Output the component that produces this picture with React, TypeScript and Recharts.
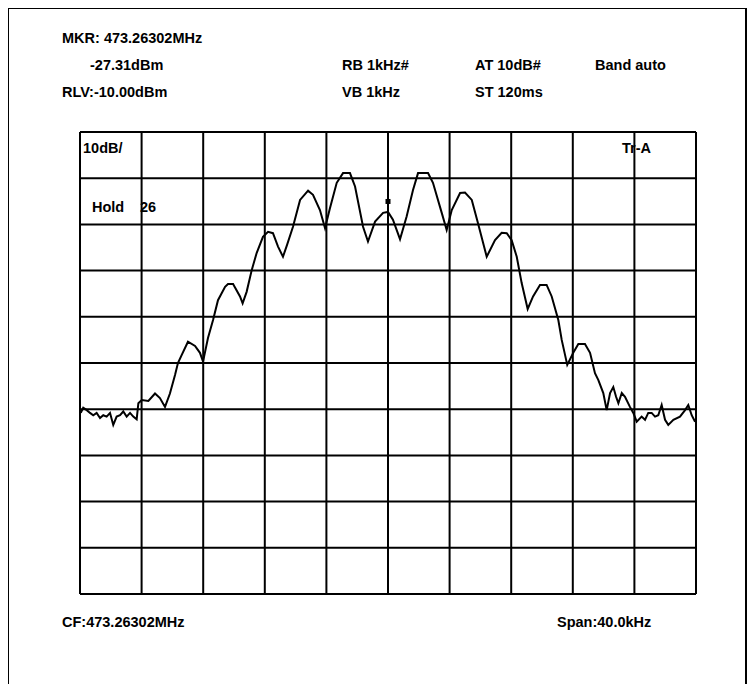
import { LineChart, Line, XAxis, YAxis, CartesianGrid, ReferenceDot } from "recharts";

// trace: offset from CF in kHz, level in dBm
const freqKHz = [
  -19.95, -19.79, -19.56, -19.35, -19.14, -18.92, -18.7, -18.49, -18.27, -18.05,
  -17.84, -17.62, -17.4, -17.19, -16.97, -16.75, -16.54, -16.32, -16.21, -15.99,
  -15.56, -15.13, -14.81, -14.48, -14.16, -13.83, -13.64, -13.4, -12.99, -12.53,
  -12.21, -12.01, -11.69, -11.36, -11.04, -10.58, -10.39, -10.06, -9.61, -9.44,
  -9.18, -8.85, -8.53, -8.12, -7.79, -7.47, -7.14, -6.82, -6.56, -6.17,
  -5.71, -5.19, -4.87, -4.42, -4.09, -3.77, -3.33, -2.92, -2.47, -2.14,
  -1.62, -1.3, -0.84, -0.32, 0, 0.32, 0.78, 1.21, 1.62, 1.95,
  2.6, 2.92, 3.49, 3.81, 4.14, 4.68, 5.0, 5.44, 5.84, 6.41,
  6.95, 7.38, 7.71, 8.03, 8.36, 8.68, 9.07, 9.42, 9.87, 10.3,
  10.63, 11.06, 11.28, 11.64, 12.03, 12.36, 12.79, 13.12, 13.44, 13.66,
  13.98, 14.2, 14.42, 14.63, 14.81, 14.96, 15.18, 15.39, 15.71, 15.93,
  16.15, 16.47, 16.69, 16.9, 17.12, 17.34, 17.55, 17.77, 17.99, 18.2,
  18.53, 18.96, 19.29, 19.5, 19.72, 19.94,
];

const levelDbm = [
  -70.8, -69.7, -70.2, -70.8, -71.3, -70.8, -71.9, -71.3, -71.6, -70.8,
  -73.4, -71.6, -71.3, -70.5, -71.6, -70.8, -71.6, -72.2, -68.7, -68.0,
  -68.2, -66.6, -67.6, -69.5, -66.6, -62.6, -60.0, -58.3, -55.4, -56.3,
  -57.8, -59.7, -54.6, -50.7, -46.4, -43.5, -42.9, -42.9, -45.6, -47.1,
  -44.6, -39.9, -36.2, -32.7, -31.6, -31.9, -34.8, -37.0, -34.5, -30.5,
  -24.7, -22.7, -23.6, -26.9, -30.8, -26.5, -21.0, -18.9, -18.9, -21.8,
  -30.5, -33.7, -29.4, -27.5, -27.3, -29.0, -33.2, -28.3, -22.6, -18.9,
  -18.9, -21.0, -27.5, -31.2, -26.9, -23.2, -23.1, -24.7, -29.7, -37.0,
  -33.4, -31.8, -31.9, -33.4, -37.0, -42.7, -48.3, -45.6, -43.1, -43.1,
  -45.6, -50.7, -55.0, -60.4, -57.8, -55.9, -55.9, -57.8, -62.2, -63.7,
  -66.5, -70.2, -66.5, -65.2, -67.3, -68.7, -66.5, -67.3, -69.5, -70.8,
  -72.7, -71.6, -72.3, -70.8, -70.8, -71.6, -71.3, -69.1, -72.3, -73.4,
  -72.3, -71.6, -70.2, -69.1, -71.3, -72.7,
];

const freqTicks = [-20, -16, -12, -8, -4, 0, 4, 8, 12, 16, 20];
const levelTicks = [-110, -100, -90, -80, -70, -60, -50, -40, -30, -20, -10];

const marker = { freq: 0, level: -27.31 };

// header / footer readouts: [text, left, centre y]
const readouts: [string, number, number][] = [
  ["MKR: 473.26302MHz", 54, 30],
  ["-27.31dBm", 82, 57],
  ["RB 1kHz#", 334, 57],
  ["AT 10dB#", 467, 57],
  ["Band auto", 587, 57],
  ["RLV:-10.00dBm", 54, 84],
  ["VB 1kHz", 334, 84],
  ["ST 120ms", 467, 84],
  ["10dB/", 75, 140],
  ["Tr-A", 614, 140],
  ["Hold", 84, 199],
  ["26", 132, 199],
  ["CF:473.26302MHz", 54, 614],
  ["Span:40.0kHz", 549, 614],
];

const data = freqKHz.map((f, i) => ({ f, level: levelDbm[i] }));

const NoTick = () => <g />;

const MarkerShape = (props: any) => {
  const { cx, cy } = props;
  return (
    <g>
      <line x1={cx} y1={cy - 9} x2={cx} y2={cy} stroke="#000" strokeWidth={2} />
      <rect x={cx - 2.5} y={cy - 13} width={5} height={5} fill="#000" />
    </g>
  );
};

export default function App() {
  return (
    <div style={{ position: "relative", width: 739, height: 676 }}>
      <LineChart
        width={739}
        height={676}
        data={data}
        margin={{ top: 124, right: 51, bottom: 90, left: 72 }}
      >
        <CartesianGrid stroke="#000" strokeWidth={2} />
        <XAxis
          dataKey="f"
          type="number"
          domain={[-20, 20]}
          ticks={freqTicks}
          interval={0}
          tick={NoTick}
          tickLine={false}
          axisLine={false}
          height={0}
        />
        <YAxis
          type="number"
          domain={[-110, -10]}
          ticks={levelTicks}
          interval={0}
          tick={NoTick}
          tickLine={false}
          axisLine={false}
          width={0}
        />
        <Line
          dataKey="level"
          type="linear"
          stroke="#000"
          strokeWidth={2}
          dot={false}
          isAnimationActive={false}
        />
        <ReferenceDot x={marker.freq} y={marker.level} shape={MarkerShape} />
      </LineChart>
      <div
        style={{
          position: "absolute",
          left: -1,
          top: -1,
          width: 736,
          height: 677,
          borderLeft: "2px solid #000",
          borderTop: "2px solid #000",
          borderRight: "2px solid #000",
          pointerEvents: "none",
        }}
      />
      {readouts.map(([t, x, y]) => (
        <div
          key={t}
          style={{
            position: "absolute",
            left: x,
            top: y - 8,
            lineHeight: "16px",
            fontFamily: "Arial, 'Liberation Sans', sans-serif",
            fontWeight: "bold",
            fontSize: 14.5,
            whiteSpace: "nowrap",
            color: "#000",
          }}
        >
          {t}
        </div>
      ))}
    </div>
  );
}
